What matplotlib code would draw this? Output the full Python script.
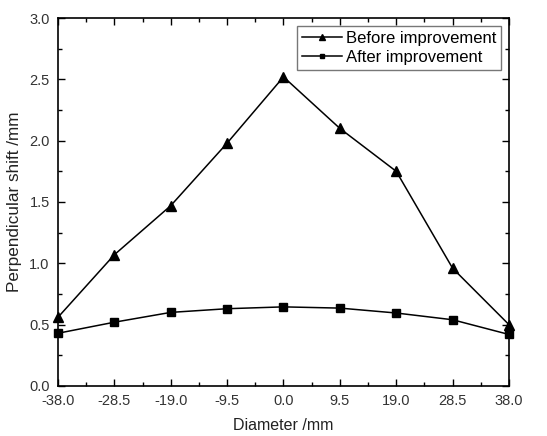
import matplotlib
matplotlib.use("Agg")
import matplotlib.pyplot as plt
from matplotlib.ticker import MultipleLocator

plt.rcParams['font.family'] = ['Liberation Sans', 'DejaVu Sans']

diameter = [-38.0, -28.5, -19.0, -9.5, 0.0, 9.5, 19.0, 28.5, 38.0]
before = [0.56, 1.07, 1.47, 1.98, 2.52, 2.10, 1.75, 0.96, 0.50]
after = [0.43, 0.52, 0.60, 0.63, 0.645, 0.635, 0.595, 0.54, 0.42]
xtick_labels = ["-38.0", "-28.5", "-19.0", "-9.5", "0.0", "9.5", "19.0", "28.5", "38.0"]

fig = plt.figure(figsize=(5.47, 4.36), dpi=100)
ax = fig.add_axes([0.106, 0.1147, 0.8245, 0.844])

ax.plot(diameter, before, color='black', lw=1.1, marker='^', ms=6.5, label='Before improvement', clip_on=False, zorder=3)
ax.plot(diameter, after, color='black', lw=1.1, marker='s', ms=5.5, label='After improvement', clip_on=False, zorder=3)

ax.set_xlim(-38, 38)
ax.set_ylim(0, 3.0)
ax.set_xticks(diameter)
ax.set_xticklabels(xtick_labels)
ax.xaxis.set_minor_locator(MultipleLocator(4.75))
ax.yaxis.set_major_locator(MultipleLocator(0.5))
ax.yaxis.set_minor_locator(MultipleLocator(0.25))
ax.yaxis.set_major_formatter(matplotlib.ticker.FormatStrFormatter('%.1f'))

ax.tick_params(which='both', direction='in', top=True, right=True, colors='black', labelcolor='#333333', labelsize=10.5)
ax.tick_params(which='major', length=5, width=1, pad=6)
ax.tick_params(which='minor', length=3, width=1)
for s in ax.spines.values():
    s.set_linewidth(1.2)

ax.set_xlabel('Diameter /mm', fontsize=11.5, color='#222222', labelpad=7)
ax.set_ylabel('Perpendicular shift /mm', fontsize=12.3, color='#222222', labelpad=5)

leg = ax.legend(loc='upper right', fontsize=12, frameon=True, fancybox=False,
                edgecolor='#555555', borderaxespad=0.45, handlelength=2.4,
                handletextpad=0.25, borderpad=0.3, labelspacing=0.25, markerscale=0.65)
leg.get_frame().set_linewidth(1.0)

fig.savefig('out.png', dpi=100)
